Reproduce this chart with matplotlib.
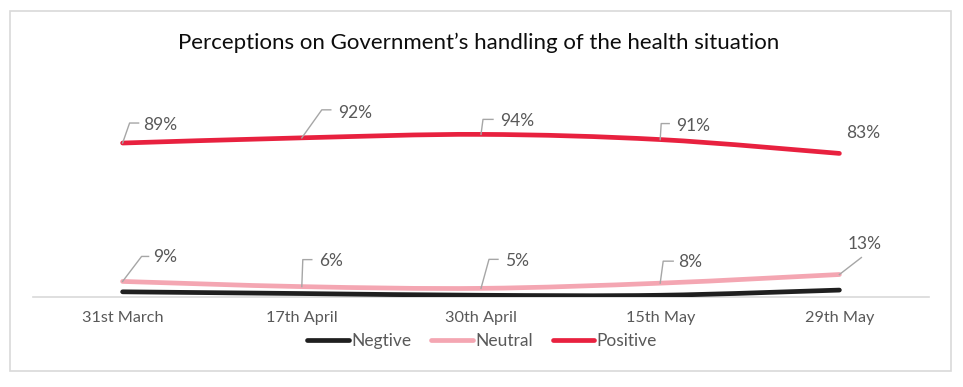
import matplotlib
matplotlib.use("Agg")
import matplotlib.pyplot as plt
from matplotlib.path import Path
from matplotlib.patches import PathPatch, Rectangle
from matplotlib.lines import Line2D
import numpy as np

# ---------------- data ----------------
categories = ["31st March", "17th April", "30th April", "15th May", "29th May"]
negative = [3, 2, 1, 1, 4]
neutral = [9, 6, 5, 8, 13]
positive = [89, 92, 94, 91, 83]
series_names = ["Negtive", "Neutral", "Positive"]
title = "Perceptions on Government\u2019s handling of the health situation"

# ---------------- styles ----------------
FONT = "Lato"
plt.rcParams["font.family"] = [FONT, "DejaVu Sans"]
colors = {"Negtive": "#1f1f1f", "Neutral": "#f4a6b2", "Positive": "#e8213f"}
label_color = "#595959"
leader_color = "#a6a6a6"

# label layout in pixels relative to point: (elbow dx, elbow dy, end dx, text dx, text dy)
pos_layout = [(7, 20, 16, 21, 18), (20, 28, 29, 36, 25), (2, 15, 12, 19, 13),
              (1, 16, 9, 16, 14), None]
pos_text_only = {4: (7, 20)}
neu_layout = [(19, 25, 26, 31, 24), (1, 27, 10, 17, 26), (8, 29, 17, 24, 27),
              (3, 22, 13, 18, 21), (22, 17, 22, 8, 31)]

W, H = 963, 387
fig = plt.figure(figsize=(W / 100, H / 100), dpi=100)
fig.patch.set_facecolor("white")

# outer frame
fig.add_artist(Rectangle((10 / W, (H - 371) / H), 941 / W, 360 / H,
                         transform=fig.transFigure, fill=False,
                         edgecolor="#d9d9d9", linewidth=1.2))

ax = fig.add_axes([33 / W, (H - 297) / H, 896 / W, 173 / H])
ax.set_xlim(-0.5, len(categories) - 0.5)
ax.set_ylim(0, 100)
for s in ["top", "right", "left"]:
    ax.spines[s].set_visible(False)
ax.spines["bottom"].set_color("#d9d9d9")
ax.spines["bottom"].set_linewidth(1.2)
ax.set_yticks([])
ax.set_xticks(range(len(categories)))
ax.set_xticklabels(categories, fontsize=11.7, color=label_color)
ax.tick_params(axis="x", length=0, pad=10)
ax.set_facecolor("none")


def smooth_path(xs, ys):
    xs = np.asarray(xs, float)
    ys = np.asarray(ys, float)
    n = len(xs)
    verts = [(xs[0], ys[0])]
    codes = [Path.MOVETO]
    for i in range(n - 1):
        i0 = max(i - 1, 0)
        i3 = min(i + 2, n - 1)
        c1 = (xs[i] + (xs[i + 1] - xs[i0]) / 6, ys[i] + (ys[i + 1] - ys[i0]) / 6)
        c2 = (xs[i + 1] - (xs[i3] - xs[i]) / 6, ys[i + 1] - (ys[i3] - ys[i]) / 6)
        verts += [c1, c2, (xs[i + 1], ys[i + 1])]
        codes += [Path.CURVE4] * 3
    return Path(verts, codes)


xs = np.arange(len(categories))
for name, vals in zip(series_names, [negative, neutral, positive]):
    p = PathPatch(smooth_path(xs, vals), facecolor="none", edgecolor=colors[name],
                  linewidth=3.4, capstyle="round", joinstyle="round", zorder=3)
    ax.add_patch(p)


def add_labels(vals, layout, text_only=None):
    text_only = text_only or {}
    for i, v in enumerate(vals):
        px, py = ax.transData.transform((xs[i], v))
        if layout[i] is not None:
            ex, ey, endx, tx, ty = layout[i]
            fig.add_artist(Line2D([px, px + ex, px + endx], [py, py + ey, py + ey],
                                  transform=None, color=leader_color, linewidth=1.0,
                                  zorder=4))
        else:
            tx, ty = text_only[i]
        fig.text(px + tx, py + ty, f"{v}%", transform=None, ha="left", va="center",
                 fontsize=12.5, color=label_color, zorder=5)


add_labels(positive, pos_layout, pos_text_only)
add_labels(neutral, neu_layout)

fig.text(479 / W, 1 - 43 / H, title, ha="center", va="center",
         fontsize=16, color="#0d0d0d")

handles = [Line2D([], [], color=colors[n], linewidth=3.4, solid_capstyle="round")
           for n in series_names]
leg = fig.legend(handles, series_names, loc="center", bbox_to_anchor=(482 / W, 1 - 341 / H),
                 ncol=3, frameon=False, fontsize=12.5, handlelength=2.4,
                 handletextpad=0.12, columnspacing=1.15, borderaxespad=0)
for t in leg.get_texts():
    t.set_color(label_color)

fig.savefig("out.png", dpi=100)
